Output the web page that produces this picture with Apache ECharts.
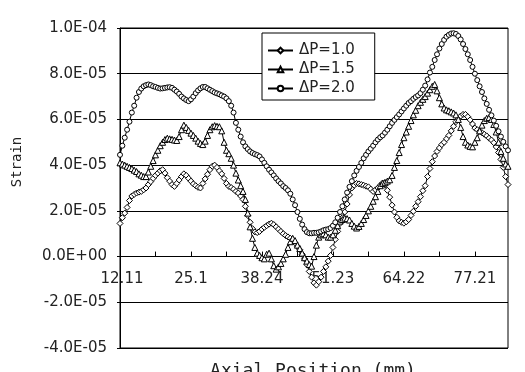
<!DOCTYPE html>
<html>
<head>
<meta charset="utf-8">
<script src="https://cdn.jsdelivr.net/npm/echarts@6/dist/echarts.min.js"></script>
<style>
  html, body { margin: 0; padding: 0; background: #fff; }
  #chart { width: 525px; height: 372px; }
</style>
</head>
<body>
<div id="chart"></div>
<script>
// Strain values in units of 1E-05, one value per axial sampling point
const dp10 = [
  1.45, 1.7, 1.9, 2.15, 2.45, 2.65, 2.72, 2.78, 2.82, 2.85,
  2.92, 3.0, 3.15, 3.28, 3.42, 3.55, 3.65, 3.75, 3.8, 3.65,
  3.45, 3.3, 3.15, 3.07, 3.2, 3.35, 3.5, 3.62, 3.55, 3.42,
  3.3, 3.18, 3.1, 3.03, 3.0, 3.2, 3.4, 3.6, 3.8, 3.95,
  4.0, 3.9, 3.75, 3.62, 3.42, 3.2, 3.07, 3.02, 2.95, 2.85,
  2.78, 2.65, 2.5, 2.2, 1.8, 1.5, 1.22, 1.08, 1.05, 1.1,
  1.2, 1.28, 1.35, 1.42, 1.46, 1.4, 1.3, 1.2, 1.1, 1.0,
  0.92, 0.86, 0.8, 0.72, 0.6, 0.45, 0.3, 0.1, -0.1, -0.35,
  -0.65, -0.9, -1.15, -1.25, -1.1, -0.9, -0.65, -0.45, -0.2, 0.05,
  0.4, 0.75, 1.1, 1.45, 1.7, 1.95, 2.3, 2.7, 3.0, 3.12,
  3.2, 3.18, 3.15, 3.12, 3.08, 3.05, 2.95, 2.85, 2.92, 3.0,
  3.12, 3.22, 3.12, 2.9, 2.6, 2.25, 1.95, 1.72, 1.56, 1.5,
  1.46, 1.52, 1.62, 1.8, 1.98, 2.2, 2.4, 2.62, 2.88, 3.1,
  3.5, 3.85, 4.15, 4.4, 4.6, 4.75, 4.9, 5.0, 5.15, 5.3,
  5.5, 5.7, 5.9, 6.02, 6.15, 6.22, 6.22, 6.12, 5.98, 5.8,
  5.62, 5.55, 5.48, 5.42, 5.35, 5.28, 5.18, 5.1, 4.98, 4.8,
  4.55, 4.25, 3.9, 3.5, 3.15
];
const dp15 = [
  4.1, 4.05, 4.0, 3.95, 3.9, 3.85, 3.78, 3.72, 3.62, 3.56,
  3.5, 3.5, 3.7, 3.95, 4.2, 4.45, 4.65, 4.85, 5.0, 5.12,
  5.18, 5.15, 5.13, 5.1, 5.08, 5.25, 5.55, 5.75, 5.65, 5.52,
  5.4, 5.3, 5.18, 5.05, 4.95, 4.9, 5.05, 5.3, 5.55, 5.68,
  5.73, 5.7, 5.68, 5.5, 5.0, 4.65, 4.5, 4.3, 4.0, 3.65,
  3.35, 3.1, 2.85, 2.5, 1.9, 1.3, 0.8, 0.4, 0.15, 0.05,
  -0.05, -0.1, 0.1, 0.15, -0.1, -0.4, -0.55, -0.45, -0.3, -0.1,
  0.1, 0.4, 0.65, 0.8, 0.7, 0.5, 0.35, 0.15, -0.05, -0.2,
  -0.35, -0.42, 0.0, 0.5, 0.85, 0.95, 1.0, 0.95, 0.85, 0.85,
  0.95, 1.15, 1.35, 1.55, 1.62, 1.68, 1.66, 1.6, 1.45, 1.33,
  1.25, 1.32, 1.45, 1.62, 1.8, 2.0, 2.2, 2.42, 2.62, 2.85,
  3.1, 3.2, 3.25, 3.3, 3.36, 3.55, 3.9, 4.2, 4.55, 4.9,
  5.2, 5.45, 5.7, 5.95, 6.2, 6.4, 6.6, 6.75, 6.88, 7.0,
  7.15, 7.3, 7.45, 7.53, 7.25, 6.95, 6.68, 6.5, 6.42, 6.38,
  6.33, 6.28, 6.2, 6.0, 5.65, 5.25, 5.0, 4.88, 4.82, 4.8,
  5.0, 5.2, 5.5, 5.75, 5.95, 6.05, 6.08, 6.0, 5.78, 5.45,
  5.0, 4.6, 4.3, 4.05, 3.95
];
const dp20 = [
  4.45, 4.85, 5.2, 5.55, 5.9, 6.3, 6.6, 6.95, 7.2, 7.35,
  7.45, 7.5, 7.53, 7.5, 7.45, 7.42, 7.38, 7.35, 7.36, 7.38,
  7.4, 7.41, 7.38, 7.3, 7.22, 7.12, 7.0, 6.92, 6.85, 6.8,
  6.88, 7.0, 7.15, 7.27, 7.36, 7.42, 7.42, 7.36, 7.3, 7.24,
  7.18, 7.14, 7.1, 7.05, 7.0, 6.92, 6.8, 6.6, 6.3, 5.85,
  5.55, 5.25, 5.0, 4.82, 4.7, 4.6, 4.53, 4.48, 4.44, 4.38,
  4.25, 4.1, 3.95, 3.8, 3.68, 3.55, 3.42, 3.3, 3.2, 3.08,
  3.0, 2.9, 2.75, 2.5, 2.25, 1.95, 1.65, 1.4, 1.2, 1.07,
  1.02, 1.02, 1.04, 1.04, 1.06, 1.1, 1.15, 1.18, 1.2, 1.25,
  1.35, 1.5, 1.7, 1.95, 2.2, 2.5, 2.8, 3.05, 3.3, 3.55,
  3.75, 3.92, 4.1, 4.3, 4.45, 4.6, 4.72, 4.85, 5.0, 5.12,
  5.22, 5.3, 5.42, 5.55, 5.7, 5.85, 5.98, 6.1, 6.22, 6.35,
  6.48, 6.6, 6.72, 6.8, 6.9, 6.98, 7.05, 7.15, 7.3, 7.48,
  7.75, 8.05, 8.3, 8.6, 8.85, 9.1, 9.3, 9.48, 9.62, 9.7,
  9.76, 9.77, 9.74, 9.65, 9.5, 9.3, 9.08, 8.85, 8.6, 8.3,
  8.0, 7.72, 7.45, 7.2, 6.92, 6.68, 6.42, 6.18, 5.95, 5.72,
  5.48, 5.25, 5.02, 4.82, 4.65
];
const seriesNames = ['\u0394P=1.0', '\u0394P=1.5', '\u0394P=2.0'];
const xTickLabels = ['12.11', '25.1', '38.24', '51.23', '64.22', '77.21'];
const pointsPerLabel = 30;
const yTickValues = [-4, -2, 0, 2, 4, 6, 8, 10];
const yTickLabels = ['-4.0E-05', '-2.0E-05', '0.0E+00', '2.0E-05', '4.0E-05', '6.0E-05', '8.0E-05', '1.0E-04'];
const xTitle = 'Axial Position (mm)';
const yTitle = 'Strain';
const yMin = -4, yMax = 10, yStep = 2;

const categories = dp10.map((_, i) => String(i));

const labelFont = 'DejaVu Sans';
const labelFontCss = '15px "DejaVu Sans"';
const txt = '#222';
const gridLeft = 120, gridTop = 28, gridBottom = 24, H = 372;
const plotH = H - gridTop - gridBottom;
const xLabelMargin = 15;
// move the x axis from the bottom edge up to the zero line
const zeroOffset = -plotH * (0 - yMin) / (yMax - yMin);

const mctx = document.createElement('canvas').getContext('2d');
mctx.font = labelFontCss;
function textWidth(s) { return mctx.measureText(s).width; }

const chart = echarts.init(document.getElementById('chart'), null, { renderer: 'canvas' });

function mkSeries(name, data, symbol, size) {
  return {
    name: name,
    type: 'line',
    data: data,
    symbol: symbol,
    symbolSize: size,
    showSymbol: true,
    showAllSymbol: true,
    lineStyle: { color: '#000', width: 1 },
    itemStyle: { color: '#fff', borderColor: '#000', borderWidth: 1 },
    emphasis: { disabled: true },
    silent: true
  };
}

chart.setOption({
  animation: false,
  backgroundColor: '#fff',
  grid: {
    left: gridLeft, right: 17, top: gridTop, bottom: gridBottom,
    containLabel: false, outerBoundsMode: 'none',
    show: true, borderColor: '#000', borderWidth: 1, backgroundColor: '#fff'
  },
  legend: {
    orient: 'vertical',
    left: 262, top: 33,
    backgroundColor: '#fff',
    borderColor: '#000', borderWidth: 1, borderRadius: 0,
    padding: [10, 20, 4, 5],
    itemWidth: 25, itemHeight: 7, itemGap: 4,
    selectedMode: false,
    textStyle: { fontFamily: labelFont, fontSize: 15, color: txt, padding: [0, 0, 0, 1] },
    data: seriesNames
  },
  xAxis: {
    type: 'category',
    position: 'bottom',
    offset: zeroOffset,
    data: categories,
    boundaryGap: false,
    axisLine: { onZero: false, lineStyle: { color: '#000', width: 1 } },
    axisTick: { show: true, inside: true, length: 5, interval: pointsPerLabel / 2 - 1, lineStyle: { color: '#000' } },
    axisLabel: {
      interval: pointsPerLabel - 1,
      margin: xLabelMargin,
      fontFamily: labelFont, fontSize: 15, color: txt,
      formatter: function (v, idx) {
        if (idx === 0) return '';
        return idx % pointsPerLabel === 0 ? xTickLabels[idx / pointsPerLabel] : '';
      }
    },
    splitLine: { show: false }
  },
  yAxis: {
    type: 'value',
    position: 'left',
    min: yMin, max: yMax, interval: yStep,
    axisLine: { show: true, onZero: false, lineStyle: { color: '#000' } },
    axisTick: { show: true, inside: false, length: 3, lineStyle: { color: '#000' } },
    axisLabel: { show: false },
    splitLine: { show: true, lineStyle: { color: '#000', width: 1 } }
  },
  series: [
    mkSeries(seriesNames[0], dp10, 'diamond', 6),
    mkSeries(seriesNames[1], dp15, 'triangle', 6),
    mkSeries(seriesNames[2], dp20, 'circle', 5)
  ]
});

// y tick labels placed through the y axis scale (right edge 13px left of the axis)
const graphics = yTickValues.map((v, i) => ({
  type: 'text',
  x: gridLeft - 13 - textWidth(yTickLabels[i]),
  y: chart.convertToPixel({ yAxisIndex: 0 }, v),
  style: { text: yTickLabels[i], font: labelFontCss, fill: txt, align: 'left', verticalAlign: 'middle' }
}));
// first x tick label, centred on the first category
const zeroY = chart.convertToPixel({ yAxisIndex: 0 }, 0);
const firstX = chart.convertToPixel({ xAxisIndex: 0 }, 0);
graphics.push({
  type: 'text',
  x: firstX + 2 - textWidth(xTickLabels[0]) / 2,
  y: zeroY + xLabelMargin,
  style: { text: xTickLabels[0], font: labelFontCss, fill: txt, align: 'left', verticalAlign: 'top' }
});
graphics.push({
  type: 'text', x: 17, y: 162, rotation: Math.PI / 2,
  style: { text: yTitle, font: '14px "DejaVu Sans Mono"', fill: txt, align: 'center', verticalAlign: 'middle' }
});
graphics.push({
  type: 'text', x: 313, y: 371,
  style: { text: xTitle, font: '18px "DejaVu Sans Mono"', fill: txt, align: 'center', verticalAlign: 'middle' }
});
chart.setOption({ graphic: graphics });
</script>
</body>
</html>
